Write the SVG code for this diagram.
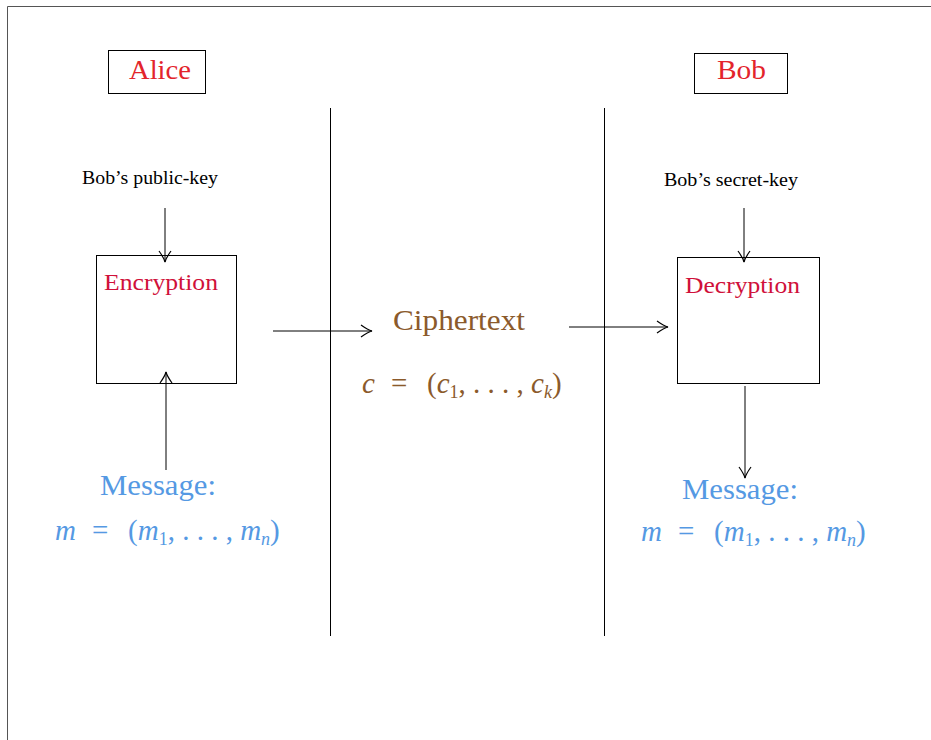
<svg xmlns="http://www.w3.org/2000/svg" width="931" height="740" viewBox="0 0 931 740">
<style>
text{font-family:"Liberation Serif","DejaVu Serif",serif}
.box{fill:none;stroke:#000;stroke-width:1}
.ln{fill:none;stroke:#000;stroke-width:1}
.name{font-size:27px;fill:#e3242b}
.key{font-size:18px;fill:#000}
.proc{font-size:23px;fill:#d0103a}
.ct{font-size:29px;fill:#8b5a2b}
.msg{font-size:29px;fill:#5599e3}
.mi{font-style:italic}
.sub{font-size:18px}
</style>
<defs>
<marker id="ah" viewBox="-12 -7 14 14" markerWidth="14" markerHeight="14" refX="0" refY="0" orient="auto" markerUnits="userSpaceOnUse">
<path d="M-11,-6 Q-4,-1 0,0 Q-4,1 -11,6" fill="none" stroke="#000" stroke-width="1.2"/>
</marker>
</defs>
<rect x="0" y="0" width="931" height="740" fill="#fff"/>
<path d="M7.5,740 V6.5 H931" fill="none" stroke="#555" stroke-width="1"/>
<g id="alice"><rect class="box" x="108.5" y="50.5" width="97" height="43"/><text class="name" x="129" y="79" textLength="62" lengthAdjust="spacingAndGlyphs">Alice</text></g>
<g id="bob"><rect class="box" x="694.5" y="53.5" width="93" height="40"/><text class="name" x="717" y="79" textLength="49" lengthAdjust="spacingAndGlyphs">Bob</text></g>
<g id="divider1"><path class="ln" d="M330.5,108 V636"/></g>
<g id="divider2"><path class="ln" d="M604.5,108 V636"/></g>
<g id="pubkey"><text class="key" x="82" y="184" textLength="136" lengthAdjust="spacingAndGlyphs">Bob’s public-key</text></g>
<g id="seckey"><text class="key" x="664" y="186" textLength="134" lengthAdjust="spacingAndGlyphs">Bob’s secret-key</text></g>
<g id="encryption"><rect class="box" x="96.5" y="255.5" width="140" height="128"/><text class="proc" x="104" y="290" textLength="114" lengthAdjust="spacingAndGlyphs">Encryption</text></g>
<g id="decryption"><rect class="box" x="677.5" y="257.5" width="142" height="126"/><text class="proc" x="685" y="293" textLength="115" lengthAdjust="spacingAndGlyphs">Decryption</text></g>
<g id="ciphertext"><text class="ct" x="393" y="330" textLength="132" lengthAdjust="spacingAndGlyphs">Ciphertext</text>
<text class="ct" y="393"><tspan class="mi" x="362">c</tspan><tspan x="391">=</tspan><tspan x="427">(</tspan><tspan class="mi">c</tspan><tspan class="sub" dy="5">1</tspan><tspan dy="-5">, . . . , </tspan><tspan class="mi">c</tspan><tspan class="sub mi" dy="5">k</tspan><tspan dy="-5">)</tspan></text></g>
<g id="message-alice"><text class="msg" x="100" y="495" textLength="116" lengthAdjust="spacingAndGlyphs">Message:</text>
<text class="msg" y="540"><tspan class="mi" x="55">m</tspan><tspan x="92">=</tspan><tspan x="128">(</tspan><tspan class="mi">m</tspan><tspan class="sub" dy="5">1</tspan><tspan dy="-5">, . . . , </tspan><tspan class="mi">m</tspan><tspan class="sub mi" dy="5">n</tspan><tspan dy="-5">)</tspan></text></g>
<g id="message-bob"><text class="msg" x="682" y="499" textLength="116" lengthAdjust="spacingAndGlyphs">Message:</text>
<text class="msg" y="541"><tspan class="mi" x="641">m</tspan><tspan x="678">=</tspan><tspan x="714">(</tspan><tspan class="mi">m</tspan><tspan class="sub" dy="5">1</tspan><tspan dy="-5">, . . . , </tspan><tspan class="mi">m</tspan><tspan class="sub mi" dy="5">n</tspan><tspan dy="-5">)</tspan></text></g>
<g id="connectors">
<path class="ln" d="M165,208 V262" marker-end="url(#ah)"/>
<path class="ln" d="M166,470 V372" marker-end="url(#ah)"/>
<path class="ln" d="M273,331 H372" marker-end="url(#ah)"/>
<path class="ln" d="M569,327 H668" marker-end="url(#ah)"/>
<path class="ln" d="M744,208 V262" marker-end="url(#ah)"/>
<path class="ln" d="M745,386 V478" marker-end="url(#ah)"/>
</g>
</svg>
